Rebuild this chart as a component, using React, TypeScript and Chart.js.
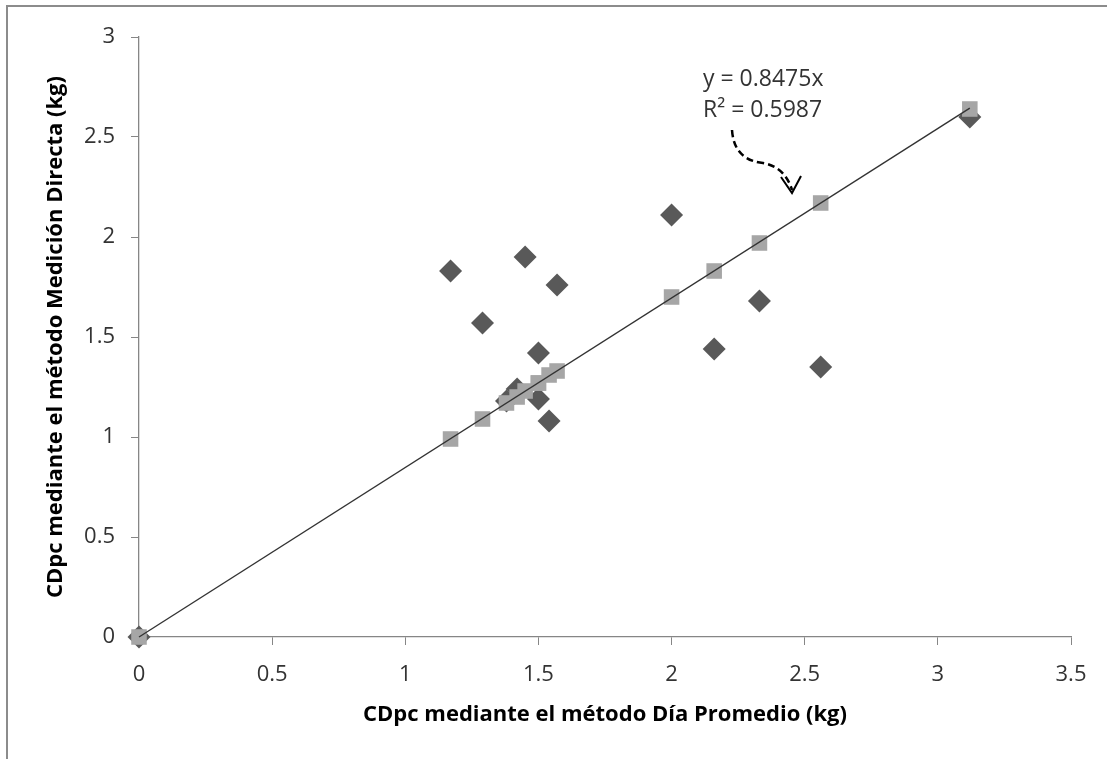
import React, { useEffect, useRef } from "react";
import { Chart, registerables } from "chart.js";

Chart.register(...registerables);

// CDpc por método Día Promedio (eje X)
const diaPromedio = [0, 1.17, 1.29, 1.38, 1.42, 1.45, 1.5, 1.5, 1.54, 1.57, 2.0, 2.16, 2.33, 2.56, 3.12];
// CDpc por método Medición Directa (eje Y, observados)
const medicionDirecta = [0, 1.83, 1.57, 1.18, 1.24, 1.9, 1.42, 1.19, 1.08, 1.76, 2.11, 1.44, 1.68, 1.35, 2.6];
// Valores pronosticados por la línea de tendencia
const pronosticados = [0, 0.99, 1.09, 1.17, 1.2, 1.23, 1.27, 1.27, 1.31, 1.33, 1.7, 1.83, 1.97, 2.17, 2.64];
// Línea de tendencia
const trendX = [0, 3.12];
const trendY = [0, 2.644];

const ecuacion = "y = 0.8475x";
const r2 = "R² = 0.5987";
const xTitle = "CDpc mediante el método Día Promedio (kg)";
const yTitle = "CDpc mediante el método Medición Directa (kg)";

const FONT = "'Open Sans', 'DejaVu Sans', sans-serif";

const decorPlugin = {
  id: "decor",
  afterDraw(chart: any) {
    const ctx = chart.ctx;
    ctx.save();
    // outer frame (top and left edges visible)
    ctx.fillStyle = "#8c8c8c";
    ctx.fillRect(6, 5, 2, 754);
    ctx.fillRect(6, 5, 1101, 2);

    // equation text
    ctx.fillStyle = "#333333";
    ctx.font = `23px ${FONT}`;
    ctx.textAlign = "left";
    ctx.textBaseline = "alphabetic";
    ctx.fillText(ecuacion, 703, 86);
    ctx.fillText(r2, 703, 117);

    // dashed curved arrow
    ctx.strokeStyle = "#000";
    ctx.lineWidth = 2.5;
    ctx.setLineDash([7, 4]);
    ctx.beginPath();
    ctx.moveTo(732, 130);
    ctx.quadraticCurveTo(734, 160, 763, 163);
    ctx.quadraticCurveTo(785, 167, 792, 190);
    ctx.stroke();
    ctx.setLineDash([]);
    ctx.lineWidth = 2;
    ctx.beginPath();
    ctx.moveTo(781, 177);
    ctx.lineTo(792, 193);
    ctx.lineTo(801, 176);
    ctx.stroke();
    ctx.restore();
  },
};

const fmt = (v: any) => String(Number(v));

export default function App() {
  const ref = useRef<HTMLCanvasElement>(null);

  useEffect(() => {
    if (!ref.current) return;
    const obs = diaPromedio.map((x, i) => ({ x, y: medicionDirecta[i] }));
    const pred = diaPromedio.map((x, i) => ({ x, y: pronosticados[i] }));
    const trend = trendX.map((x, i) => ({ x, y: trendY[i] }));

    const chart = new Chart(ref.current, {
      type: "scatter",
      data: {
        datasets: [
          {
            type: "line",
            label: "Tendencia",
            data: trend,
            borderColor: "#333333",
            borderWidth: 1.4,
            pointRadius: 0,
            showLine: true,
            fill: false,
            order: 0,
            clip: false,
          } as any,
          {
            label: "Pronosticado",
            data: pred,
            pointStyle: "rect",
            pointRadius: 11,
            backgroundColor: "#a6a6a6",
            borderColor: "#a6a6a6",
            borderWidth: 0,
            order: 1,
            clip: false,
          } as any,
          {
            label: "Observado",
            data: obs,
            pointStyle: "rectRot",
            pointRadius: 11.5,
            backgroundColor: "#595959",
            borderColor: "#595959",
            borderWidth: 0,
            order: 2,
            clip: false,
          } as any,
        ],
      },
      options: {
        responsive: false,
        animation: false,
        devicePixelRatio: 1,
        layout: { padding: { left: 0, right: 36, top: 37, bottom: 0 } },
        plugins: {
          legend: { display: false },
          tooltip: { enabled: false },
        },
        scales: {
          x: {
            type: "linear",
            min: 0,
            max: 3.5,
            ticks: {
              stepSize: 0.5,
              color: "#333333",
              font: { family: FONT, size: 22 },
              padding: 17,
              maxRotation: 0,
              callback: fmt,
            },
            grid: {
              drawOnChartArea: false,
              drawTicks: true,
              tickLength: 8,
              color: "#868686",
            },
            border: { color: "#868686", width: 1.3 },
            title: {
              display: true,
              text: xTitle,
              color: "#000",
              font: { family: FONT, size: 22, weight: "bold" },
              padding: { top: 0, bottom: 31 },
            },
            afterFit(scale: any) {
              scale.height = 122;
            },
          },
          y: {
            type: "linear",
            min: 0,
            max: 3,
            ticks: {
              stepSize: 0.5,
              color: "#333333",
              font: { family: FONT, size: 22 },
              padding: 16,
              callback: fmt,
            },
            grid: {
              drawOnChartArea: false,
              drawTicks: true,
              tickLength: 8,
              color: "#868686",
            },
            border: { color: "#868686", width: 1.3 },
            title: {
              display: true,
              text: yTitle,
              color: "#000",
              font: { family: FONT, size: 22, weight: "bold" },
              padding: { top: 43, bottom: 0 },
            },
            afterFit(scale: any) {
              scale.width = 139;
            },
          },
        },
      },
      plugins: [decorPlugin],
    });
    return () => chart.destroy();
  }, []);

  return (
    <div style={{ position: "absolute", left: 0, top: 0, width: 1107, height: 759, background: "#fff" }}>
      <canvas ref={ref} width={1107} height={759} />
    </div>
  );
}
